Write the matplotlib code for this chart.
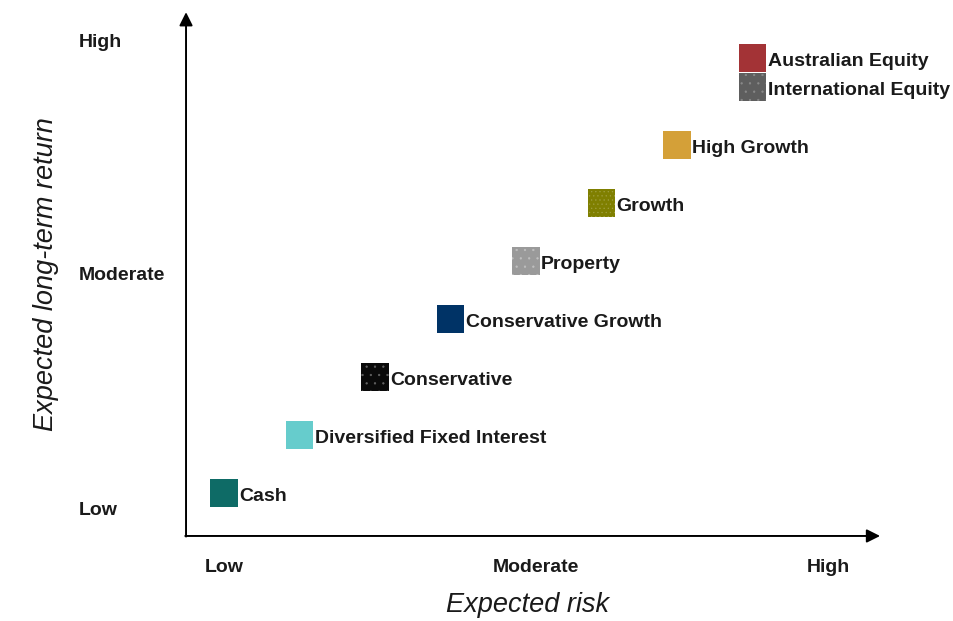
import matplotlib
matplotlib.use("Agg")
import matplotlib.pyplot as plt
from matplotlib.patches import Rectangle

FONT = ['Liberation Sans Narrow', 'Liberation Sans', 'DejaVu Sans']
plt.rcParams['font.family'] = FONT
plt.rcParams['hatch.linewidth'] = 0.4

names = ["Cash", "Diversified Fixed Interest", "Conservative", "Conservative Growth",
         "Property", "Growth", "High Growth", "Australian Equity", "International Equity"]
risk = [1, 2, 3, 4, 5, 6, 7, 8, 8]
ret = [1, 2, 3, 4, 5, 6, 7, 8.5, 8.0]
colors = ["#0e6b66", "#66cccc", "#0a0a0a", "#003366", "#9a9a9a", "#7f7f00",
          "#d4a038", "#a33336", "#5e5e5e"]
hatches = [None, None, "..", None, "..", "....", None, None, ".."]
hatch_colors = [None, None, "#666666", None, "#c0c0c0", "#a0a040", None, None, "#8a8a8a"]

x_ticks = [1, 5.13, 9]
x_tick_labels = ["Low", "Moderate", "High"]
y_ticks = [0.74, 4.79, 8.81]
y_tick_labels = ["Low", "Moderate", "High"]

fig = plt.figure(figsize=(9.54, 6.21), dpi=100)
ax = fig.add_axes([0, 0, 1, 1])
ax.set_xlim(-1.967, 10.669)
ax.set_ylim(-1.207, 9.5)
ax.axis('off')

# axes arrows
x0, y0 = 0.497, 0.259
ax.annotate('', xy=(x0, 9.29), xytext=(x0, y0 - 0.01),
            arrowprops=dict(arrowstyle='-|>', lw=1.4, color='black', mutation_scale=20,
                            shrinkA=0, shrinkB=0))
ax.annotate('', xy=(9.69, y0), xytext=(x0 - 0.01, y0),
            arrowprops=dict(arrowstyle='-|>', lw=1.4, color='black', mutation_scale=20,
                            shrinkA=0, shrinkB=0))

w, h = 0.358, 0.483
for n, rx, ry, c, ht, hc in zip(names, risk, ret, colors, hatches, hatch_colors):
    rect = Rectangle((rx - w / 2, ry - h / 2), w, h, facecolor=c,
                     edgecolor=hc if hc else c, hatch=ht, lw=0)
    ax.add_patch(rect)
    ax.text(rx + w / 2 + 0.02, ry - 0.03, n, ha='left', va='center_baseline', fontsize=14,
            color='#1a1a1a', fontweight='bold')

for xv, lab in zip(x_ticks, x_tick_labels):
    ax.text(xv, -0.25, lab, ha='center', va='center_baseline', fontsize=14, color='#1a1a1a',
            fontweight='bold')
for yv, lab in zip(y_ticks, y_tick_labels):
    ax.text(-0.93, yv, lab, ha='left', va='center_baseline', fontsize=14, color='#1a1a1a',
            fontweight='bold')

ax.text(5.02, -0.93, "Expected risk", ha='center', va='center', fontsize=19.5,
        style='italic', color='#1a1a1a')
ax.text(-1.36, 4.78, "Expected long-term return", ha='center', va='center', fontsize=19.5,
        style='italic', rotation=90, color='#1a1a1a')

fig.savefig("out.png", dpi=100)
